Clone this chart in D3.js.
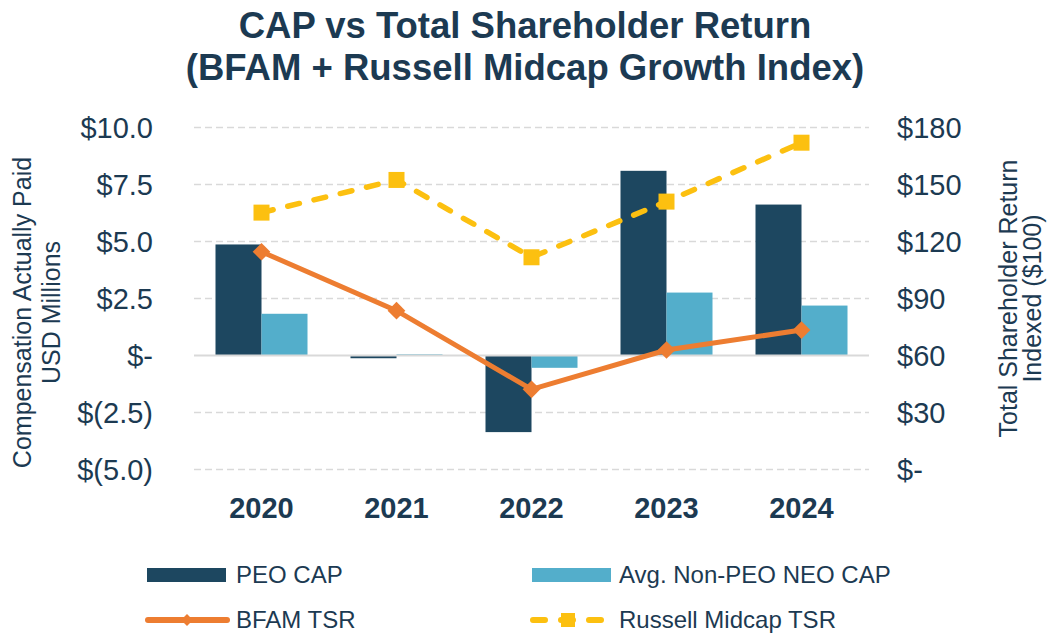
<!DOCTYPE html>
<html>
<head>
<meta charset="utf-8">
<script src="https://cdn.jsdelivr.net/npm/d3@7"></script>
<style>
  body { margin: 0; background: #fff; overflow: hidden; }
  text { font-family: "Liberation Sans", Arial, sans-serif; fill: #1c3a52; }
</style>
</head>
<body>
<div id="chart"></div>
<script>
// data
const years = ["2020", "2021", "2022", "2023", "2024"];
const peoCap = [4.87, -0.12, -3.36, 8.1, 6.62];
const neoCap = [1.83, 0.05, -0.54, 2.76, 2.19];
const bfamTsr = [114.6, 83.6, 42.2, 62.9, 73.4];
const russellTsr = [135.2, 152.4, 111.7, 141, 172];
const leftTicks = [-5, -2.5, 0, 2.5, 5, 7.5, 10];
const rightTicks = [0, 30, 60, 90, 120, 150, 180];

const colors = {
  peo: "#1d4760",
  neo: "#53aecb",
  bfam: "#ed7d31",
  russell: "#fcc010",
  grid: "#d9d9d9",
  text: "#1c3a52",
};

const width = 1047, height = 633;
const margin = { top: 127.5, right: 178, bottom: 163.5, left: 194 };
const innerW = width - margin.left - margin.right;
const innerH = height - margin.top - margin.bottom;

const svg = d3.select("#chart").append("svg")
  .attr("width", width)
  .attr("height", height);

// title
const title = svg.append("text")
  .attr("text-anchor", "middle")
  .style("font-size", "36.5px")
  .style("font-weight", "bold");
title.append("tspan").attr("x", 525).attr("y", 38).text("CAP vs Total Shareholder Return");
title.append("tspan").attr("x", 525).attr("y", 80).text("(BFAM + Russell Midcap Growth Index)");

const chart = svg.append("g").attr("transform", `translate(${margin.left},${margin.top})`);

const x = d3.scaleBand().domain(years).range([0, innerW]);
const yL = d3.scaleLinear().domain([-5, 10]).range([innerH, 0]);
const yR = d3.scaleLinear().domain([0, 180]).range([innerH, 0]);
const barW = 46;

const fmtL = (d) => d === 0 ? "$-" : d < 0 ? `$(${Math.abs(d).toFixed(1)})` : `$${d.toFixed(1)}`;
const fmtR = (d) => d === 0 ? "$-" : `$${d}`;

// gridlines
chart.append("g")
  .selectAll("line")
  .data(leftTicks.filter((d) => d !== 0))
  .join("line")
  .attr("x1", 0).attr("x2", innerW)
  .attr("y1", (d) => yL(d)).attr("y2", (d) => yL(d))
  .attr("stroke", colors.grid)
  .attr("stroke-width", 1.5)
  .attr("stroke-dasharray", "7,4");

// left axis
const leftAxis = chart.append("g")
  .call(d3.axisLeft(yL).tickValues(leftTicks).tickFormat(fmtL).tickSize(0).tickPadding(41));
leftAxis.select(".domain").remove();
leftAxis.selectAll("text").style("font-size", "29px").attr("fill", colors.text).attr("dy", "0.35em");

// right axis
const rightAxis = chart.append("g")
  .attr("transform", `translate(${innerW},0)`)
  .call(d3.axisRight(yR).tickValues(rightTicks).tickFormat(fmtR).tickSize(0).tickPadding(28));
rightAxis.select(".domain").remove();
rightAxis.selectAll("text").style("font-size", "29px").attr("fill", colors.text).attr("dy", "0.35em");

// bars
chart.append("g")
  .selectAll("rect")
  .data(years.map((y, i) => ({ year: y, v: peoCap[i] })))
  .join("rect")
  .attr("x", (d) => x(d.year) + x.bandwidth() / 2 - barW)
  .attr("width", barW)
  .attr("y", (d) => yL(Math.max(0, d.v)))
  .attr("height", (d) => Math.abs(yL(d.v) - yL(0)))
  .attr("fill", colors.peo);

chart.append("g")
  .selectAll("rect")
  .data(years.map((y, i) => ({ year: y, v: neoCap[i] })))
  .join("rect")
  .attr("x", (d) => x(d.year) + x.bandwidth() / 2)
  .attr("width", barW)
  .attr("y", (d) => yL(Math.max(0, d.v)))
  .attr("height", (d) => Math.abs(yL(d.v) - yL(0)))
  .attr("fill", colors.neo);

// zero line
chart.append("line")
  .attr("x1", 0).attr("x2", innerW)
  .attr("y1", yL(0)).attr("y2", yL(0))
  .attr("stroke", colors.grid)
  .attr("stroke-width", 2);

// year labels
chart.append("g")
  .selectAll("text")
  .data(years)
  .join("text")
  .attr("x", (d) => x(d) + x.bandwidth() / 2)
  .attr("y", 517.5 - margin.top)
  .attr("text-anchor", "middle")
  .style("font-size", "29px")
  .style("font-weight", "bold")
  .text((d) => d);

const cx = (i) => x(years[i]) + x.bandwidth() / 2;

// Russell line
const russellLine = d3.line().x((d, i) => cx(i)).y((d) => yR(d));
chart.append("path")
  .datum(russellTsr)
  .attr("d", russellLine)
  .attr("fill", "none")
  .attr("stroke", colors.russell)
  .attr("stroke-width", 5.5)
  .attr("stroke-linecap", "round")
  .attr("stroke-dasharray", "12,15");
chart.append("g")
  .selectAll("rect")
  .data(russellTsr)
  .join("rect")
  .attr("x", (d, i) => cx(i) - 8)
  .attr("y", (d) => yR(d) - 8)
  .attr("width", 16).attr("height", 16)
  .attr("fill", colors.russell);

// BFAM line
const bfamLine = d3.line().x((d, i) => cx(i)).y((d) => yR(d));
chart.append("path")
  .datum(bfamTsr)
  .attr("d", bfamLine)
  .attr("fill", "none")
  .attr("stroke", colors.bfam)
  .attr("stroke-width", 5);
const diamond = d3.symbol().type(d3.symbolDiamond2).size(200);
chart.append("g")
  .selectAll("path")
  .data(bfamTsr)
  .join("path")
  .attr("d", diamond)
  .attr("transform", (d, i) => `translate(${cx(i)},${yR(d)})`)
  .attr("fill", colors.bfam);

// axis titles
const lt = svg.append("text")
  .attr("transform", "translate(0,312.5) rotate(-90)")
  .attr("text-anchor", "middle")
  .style("font-size", "25px");
lt.append("tspan").attr("x", 0).attr("y", 31).text("Compensation Actually Paid");
lt.append("tspan").attr("x", 0).attr("y", 60).text("USD Millions");

const rt = svg.append("text")
  .attr("transform", "translate(0,298.5) rotate(-90)")
  .attr("text-anchor", "middle")
  .style("font-size", "25px");
rt.append("tspan").attr("x", 0).attr("y", 1017).text("Total Shareholder Return");
rt.append("tspan").attr("x", 0).attr("y", 1041).text("Indexed ($100)");

// legend
const legend = svg.append("g");
const items = [
  { label: "PEO CAP", type: "bar", color: colors.peo, lx: 147, ly: 575 },
  { label: "Avg. Non-PEO NEO CAP", type: "bar", color: colors.neo, lx: 532, ly: 575 },
  { label: "BFAM TSR", type: "line", color: colors.bfam, lx: 147, ly: 620 },
  { label: "Russell Midcap TSR", type: "dash", color: colors.russell, lx: 532, ly: 620 },
];
items.forEach((d) => {
  const g = legend.append("g").attr("transform", `translate(${d.lx},${d.ly})`);
  if (d.type === "bar") {
    g.append("rect").attr("x", 0).attr("y", -7).attr("width", 79).attr("height", 14).attr("fill", d.color);
  } else if (d.type === "line") {
    g.append("line").attr("x1", 1).attr("x2", 80).attr("stroke", d.color)
      .attr("stroke-width", 6).attr("stroke-linecap", "round");
    g.append("path").attr("d", d3.symbol().type(d3.symbolDiamond2).size(90)).attr("transform", "translate(40,0)")
      .attr("fill", d.color);
  } else {
    g.append("line").attr("x1", 1).attr("x2", 72).attr("stroke", d.color)
      .attr("stroke-width", 6).attr("stroke-linecap", "round").attr("stroke-dasharray", "12,16");
    g.append("rect").attr("x", 29).attr("y", -7).attr("width", 14).attr("height", 14).attr("fill", d.color);
  }
  g.append("text")
    .attr("x", d.lx > 300 ? 87 : 89)
    .attr("y", 0)
    .attr("dy", "0.35em")
    .style("font-size", "24px")
    .text(d.label);
});
</script>
</body>
</html>
